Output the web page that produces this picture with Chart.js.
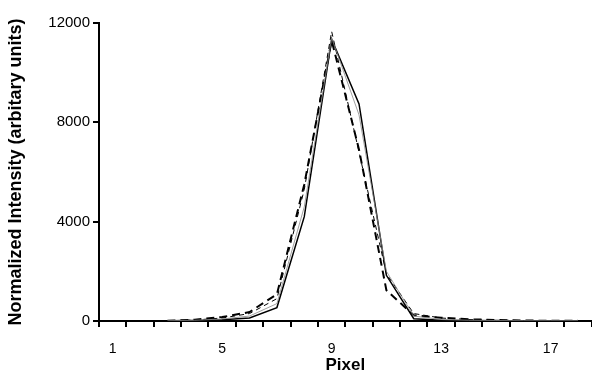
<!DOCTYPE html>
<html>
<head>
<meta charset="utf-8">
<script src="https://cdn.jsdelivr.net/npm/chart.js@4/dist/chart.umd.min.js"></script>
<style>
  html, body { margin: 0; padding: 0; background: #fff; }
  #wrap { width: 592px; height: 376px; }
</style>
</head>
<body>
<div id="wrap"><canvas id="chart" width="592" height="376"></canvas></div>
<script>
// pixel index 1..18
const pixels = [1,2,3,4,5,6,7,8,9,10,11,12,13,14,15,16,17,18];
const shownLabels = [1, 5, 9, 13, 17];
const yTicks = [0, 4000, 8000, 12000];

const solidVals      = [null, null, 10, 20, 50, 120, 540, 4200, 11350, 8740, 1840, 90, 30, 20, 15, 10, 10, 10];
const thickDashVals  = [null, null, 10, 50, 160, 360, 1080, 5500, 11300, 6900, 1240, 230, 130, 70, 40, 20, 10, 10];
const thinDashVals   = [null, null, 10, 40, 120, 300, 900, 5300, 11660, 6800, 1900, 300, 120, 60, 30, 20, 10, 10];
const thinSolidVals  = [null, null, 10, 30, 80, 200, 700, 4600, 11400, 8300, 2000, 200, 60, 30, 20, 10, 10, 10];

const font = "'Liberation Sans', Arial, sans-serif";

const chartData = {
  labels: pixels,
  datasets: [
    { label: 'thin solid', data: thinSolidVals, borderColor: '#888', borderWidth: 0.8 },
    { label: 'thin dash', data: thinDashVals, borderColor: '#000', borderWidth: 1, borderDash: [5, 4] },
    { label: 'thick dash', data: thickDashVals, borderColor: '#000', borderWidth: 2, borderDash: [8, 5] },
    { label: 'solid', data: solidVals, borderColor: '#000', borderWidth: 1.5 }
  ]
};
chartData.datasets.forEach(d => { d.pointRadius = 0; d.tension = 0; d.fill = false; });

const options = {
  responsive: false,
  animation: false,
  layout: { padding: { top: 23, right: 0, left: 5, bottom: 0 } },
  plugins: { legend: { display: false }, tooltip: { enabled: false } },
  scales: {
    x: {
      type: 'category',
      offset: true,
      grid: { offset: true, drawOnChartArea: false, drawTicks: true, tickLength: 6, tickColor: '#000', lineWidth: 2 },
      border: { color: '#000', width: 2 },
      ticks: {
        autoSkip: false, maxRotation: 0, color: '#000', padding: 14,
        font: { family: font, size: 14 },
        callback: function(v) { const l = this.getLabelForValue(v); return shownLabels.includes(l) ? String(l) : ''; }
      },
      title: { display: true, text: 'Pixel', color: '#000', padding: { top: 0, bottom: 0 }, font: { family: font, size: 17, weight: 'bold' } },
      afterFit: s => { s.height = 55; }
    },
    y: {
      min: 0, max: 12000,
      afterBuildTicks: s => { s.ticks = yTicks.map(v => ({ value: v })); },
      grid: { drawOnChartArea: false, drawTicks: true, tickLength: 6, tickColor: '#000', lineWidth: 2 },
      border: { color: '#000', width: 2 },
      ticks: { color: '#000', padding: 3, font: { family: font, size: 15 }, callback: v => String(v) },
      title: { display: true, text: 'Normalized Intensity (arbitary units)', color: '#000', padding: { top: 0, bottom: 4 }, font: { family: font, size: 18, weight: 'bold' } },
      afterFit: s => { s.width = 94; }
    }
  }
};

new Chart(document.getElementById('chart').getContext('2d'), { type: 'line', data: chartData, options: options });
</script>
</body>
</html>
